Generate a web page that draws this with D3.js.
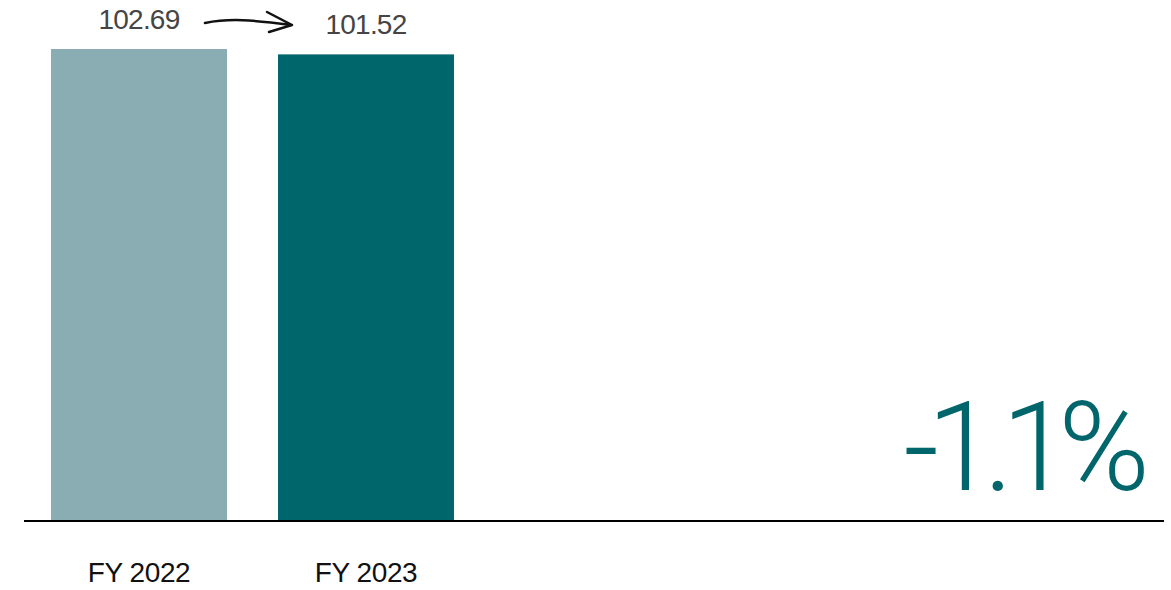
<!DOCTYPE html>
<html>
<head>
<meta charset="utf-8">
<script src="https://cdn.jsdelivr.net/npm/d3@7"></script>
<style>
  body { margin: 0; background: #fff; }
  text { font-family: "Liberation Sans", Arial, sans-serif; }
</style>
</head>
<body>
<div id="chart"></div>
<script>
// chart data
const categories = ["FY 2022", "FY 2023"];
const values = [102.69, 101.52];
const valueLabels = ["102.69", "101.52"];
const changeLabel = "-1.1%";
const barColors = ["#89adb2", "#00666b"];

const width = 1171, height = 590;

let svg = d3.select('#chart').append('svg')
  .attr('width', width)
  .attr('height', height);

// scales
let x = d3.scaleBand()
  .domain(categories)
  .range([51, 454])
  .paddingInner(0.2247)
  .paddingOuter(0);

let y = d3.scaleLinear()
  .domain([0, d3.max(values)])
  .range([521, 49]);

// bars
svg.append('g').selectAll('rect')
  .data(values)
  .enter().append('rect')
  .attr('x', (d, i) => x(categories[i]))
  .attr('y', d => y(d))
  .attr('width', x.bandwidth())
  .attr('height', d => y(0) - y(d))
  .style('fill', (d, i) => barColors[i]);

// value labels
svg.append('g').selectAll('text')
  .data(values)
  .enter().append('text')
  .text((d, i) => valueLabels[i])
  .attr('x', (d, i) => x(categories[i]) + x.bandwidth() / 2)
  .attr('y', d => y(d) - 20)
  .attr('text-anchor', 'middle')
  .style('font-size', '28px')
  .style('letter-spacing', '-0.8px')
  .style('fill', '#454545');

// hand drawn arrow between the two value labels
let ax0 = x(categories[0]) + x.bandwidth() - 22;
let ax1 = x(categories[1]) + 14;
let ay = y(values[0]) - 25;
svg.append('path')
  .attr('d', `M${ax0},${ay - 1} C${ax0 + 25},${ay - 6} ${ax1 - 40},${ay - 4} ${ax1},${ay + 1}`
    + ` M${ax1 - 25},${ay - 12} L${ax1},${ay + 1} L${ax1 - 23},${ay + 8}`)
  .style('fill', 'none')
  .style('stroke', '#111')
  .style('stroke-width', 2.5)
  .style('stroke-linecap', 'round')
  .style('stroke-linejoin', 'round');

// baseline
svg.append('line')
  .attr('x1', 24)
  .attr('x2', 1164)
  .attr('y1', y(0))
  .attr('y2', y(0))
  .style('stroke', '#000')
  .style('stroke-width', 2);

// category labels
let xAxis = svg.append('g')
  .attr('transform', 'translate(0,' + y(0) + ')')
  .call(d3.axisBottom(x).tickSize(0).tickPadding(41));
xAxis.select('.domain').remove();
xAxis.selectAll('text')
  .style('font-family', '"Liberation Sans", Arial, sans-serif')
  .style('font-size', '28px')
  .style('letter-spacing', '-0.4px')
  .style('fill', '#111');

// change annotation
svg.append('text')
  .text(changeLabel)
  .attr('x', 1138)
  .attr('y', 490)
  .attr('text-anchor', 'end')
  .style('font-family', 'Roboto, "Liberation Sans", sans-serif')
  .style('font-size', '124px')
  .style('font-weight', 300)
  .style('letter-spacing', '-12px')
  .style('fill', barColors[1]);
</script>
</body>
</html>
